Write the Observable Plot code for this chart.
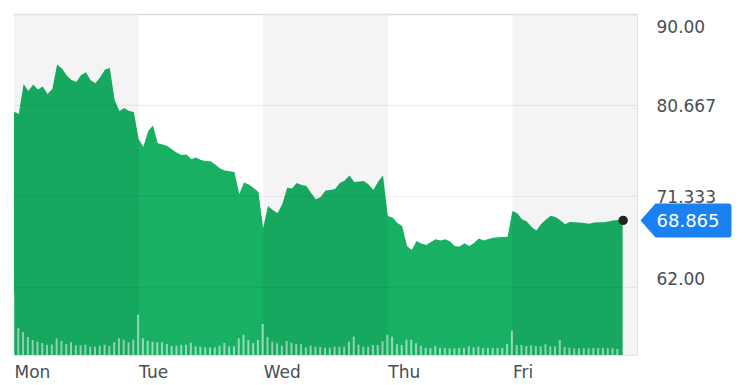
<!DOCTYPE html>
<html><head><meta charset="utf-8">
<script src="https://cdn.jsdelivr.net/npm/d3@7"></script>
<script src="https://cdn.jsdelivr.net/npm/@observablehq/plot@0.6"></script>
<style>body{margin:0;background:#fff;overflow:hidden}</style>
</head><body><div id="chart"></div>
<script>
const days = ["Mon", "Tue", "Wed", "Thu", "Fri"];
const slotsPerDay = 26;
const prices = [
  79.97, 79.74, 82.82, 82.10, 82.76, 82.25, 82.56, 81.79, 82.30, 84.82, 84.41, 83.69, 83.23, 83.02, 83.74, 84.02, 83.20, 82.89, 83.53, 84.30, 84.46, 81.17, 80.04, 80.35, 80.04, 79.94,
  77.17, 76.38, 77.99, 78.56, 76.73, 76.60, 76.45, 76.09, 75.76, 75.53, 75.58, 75.12, 75.27, 75.01, 74.91, 74.88, 74.55, 74.14, 73.94, 73.86, 73.78, 71.53, 72.71, 72.50, 72.14, 71.73,
  68.04, 70.29, 69.88, 69.58, 70.50, 72.16, 72.09, 72.65, 72.45, 72.35, 71.63, 70.98, 71.22, 71.88, 71.94, 72.04, 72.65, 72.91, 73.42, 72.76, 72.81, 72.86, 72.50, 71.94, 72.81, 73.42,
  69.27, 69.11, 68.55, 68.24, 66.19, 65.78, 66.70, 66.44, 66.29, 66.60, 66.89, 66.75, 66.87, 66.65, 66.17, 66.14, 66.47, 66.19, 66.50, 66.96, 66.75, 66.91, 67.04, 67.08, 67.11, 67.14,
  69.78, 69.54, 68.94, 68.70, 68.14, 67.78, 68.45, 68.91, 69.30, 69.16, 68.83, 68.42, 68.65, 68.62, 68.60, 68.55, 68.47, 68.59, 68.62, 68.62, 68.71, 68.80, 68.85, 68.865
];
const volumes = [
  620, 270, 230, 180, 150, 135, 120, 100, 105, 165, 140, 110, 127, 97, 97, 103, 83, 83, 93, 103, 90, 127, 167, 153, 127, 153,
  403, 167, 143, 133, 127, 127, 110, 90, 93, 103, 103, 123, 87, 83, 77, 77, 77, 93, 120, 87, 87, 167, 203, 150, 120, 150,
  310, 180, 133, 117, 93, 140, 123, 110, 107, 77, 93, 83, 80, 73, 73, 83, 83, 83, 133, 183, 103, 83, 83, 100, 100, 137,
  203, 183, 107, 100, 153, 153, 117, 93, 73, 70, 90, 73, 70, 67, 67, 70, 70, 87, 77, 83, 70, 70, 70, 70, 70, 110,
  243, 100, 100, 90, 97, 90, 87, 107, 87, 87, 150, 80, 73, 67, 67, 67, 67, 70, 70, 70, 67, 67, 60
];
const volumeMax = 3410;
const yTicks = [90, 80.667, 71.333, 62];
const yTickLabels = ["90.00", "80.667", "71.333", "62.00"];
const lastPrice = 68.865;
const lastLabel = "68.865";

const yMin = 55, yMax = 90;
const nSlots = days.length * slotsPerDay;
const priceData = prices.map((p, i) => ({i, price: p}));
const volData = volumes.map((v, i) => ({i, v}));
const bands = days.map((d, j) => ({d, x1: j * slotsPerDay, x2: (j + 1) * slotsPerDay, shade: j % 2 === 0}));
const lastIndex = prices.length - 1;

const tagSymbol = {
  draw(ctx) {
    ctx.moveTo(0, 0);
    ctx.lineTo(15, -17);
    ctx.lineTo(88, -17);
    ctx.arcTo(91, -17, 91, -14, 3);
    ctx.lineTo(91, 14);
    ctx.arcTo(91, 17, 88, 17, 3);
    ctx.lineTo(15, 17);
    ctx.closePath();
  }
};

const labelOffsets = [12.7, 1.5, 0.8, -8.2];
const tickMarks = yTicks.map((t, k) => Plot.text([t], {
  x: nSlots, y: d => d, text: () => yTickLabels[k], dx: 19, dy: labelOffsets[k],
  textAnchor: "start", lineAnchor: "middle", fill: "#464e56", fontSize: 17
}));

const chart = Plot.plot({
  width: 750, height: 385,
  marginTop: 14, marginBottom: 30, marginLeft: 14, marginRight: 113,
  x: {domain: [0, nSlots], axis: null},
  y: {domain: [yMin, yMax], axis: null},
  style: {fontFamily: "DejaVu Sans", fontSize: "17px", background: "white", overflow: "visible"},
  marks: [
    Plot.areaY(priceData, {x: "i", y1: yMin, y2: "price", fill: "#18b063"}),
    Plot.ruleX(volData, {x: "i", y1: yMin, y2: d => yMin + d.v * (yMax - yMin) / volumeMax, stroke: "white", strokeOpacity: 0.55, strokeWidth: 2, dx: -1, clip: true}),
    Plot.rect(bands.filter(b => b.shade), {x1: "x1", x2: "x2", y1: yMin, y2: yMax, fill: "black", fillOpacity: 0.045}),
    Plot.ruleY(yTicks.slice(1), {stroke: "black", strokeOpacity: 0.07}),
    Plot.ruleY([yMax], {stroke: "#dcdce3", strokeWidth: 1.6}),
    Plot.ruleY([yMin], {stroke: "#e2e2e8"}),
    Plot.ruleX([nSlots], {stroke: "#e0e0e6"}),
    ...tickMarks,
    Plot.text(days, {x: (d, j) => j * slotsPerDay, y: yMin, text: d => d, dy: 17, textAnchor: "start", lineAnchor: "middle", fill: "#464e56", fontSize: 17}),
    Plot.dot([lastIndex], {x: d => d, y: () => lastPrice, r: 4.7, fill: "#222"}),
    Plot.dot([lastPrice], {x: nSlots, y: d => d, symbol: tagSymbol, fill: "#1a82f0", dx: 3}),
    Plot.text([lastLabel], {x: nSlots, y: () => lastPrice, text: d => d, dx: 19, dy: 1, textAnchor: "start", lineAnchor: "middle", fill: "white", fontSize: 18})
  ]
});
document.getElementById("chart").appendChild(chart);
</script>
</body></html>
